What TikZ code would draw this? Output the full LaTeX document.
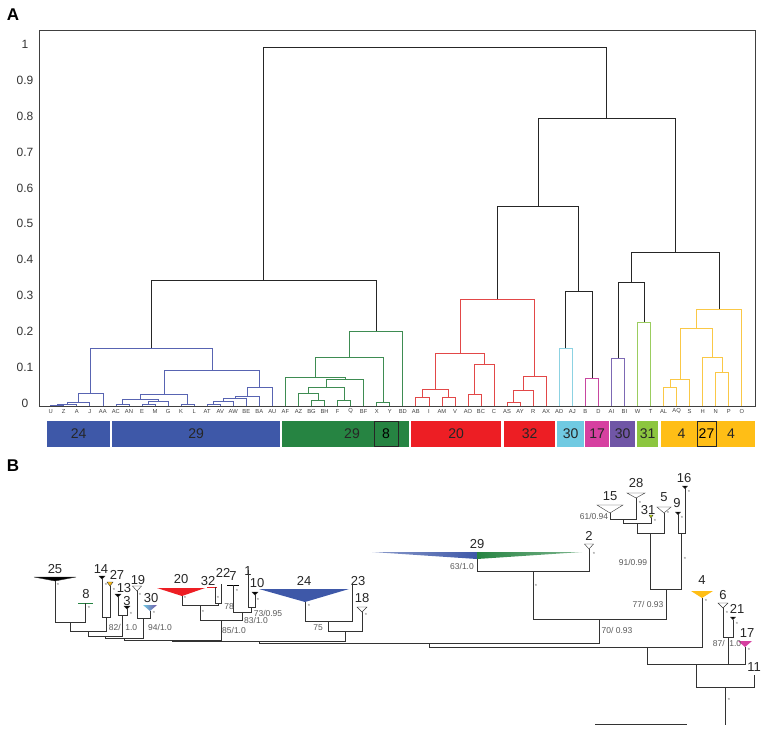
\documentclass[tikz,border=0pt]{standalone}
\usepackage{fontspec}
\setmainfont{Liberation Sans}
\usetikzlibrary{positioning, calc}

\definecolor{dblue}{RGB}{88,100,178}
\definecolor{dgreen}{RGB}{62,140,82}
\definecolor{dred}{RGB}{226,72,72}
\definecolor{dcyan}{RGB}{140,210,226}
\definecolor{dmag}{RGB}{200,70,160}
\definecolor{dpurp}{RGB}{125,105,180}
\definecolor{dlime}{RGB}{155,205,95}
\definecolor{dyel}{RGB}{250,200,70}
\definecolor{bblue}{RGB}{62,88,168}
\definecolor{bgreen}{RGB}{38,132,66}
\definecolor{bred}{RGB}{237,30,36}
\definecolor{bcyan}{RGB}{112,202,226}
\definecolor{bmag}{RGB}{214,64,160}
\definecolor{bpurp}{RGB}{112,86,166}
\definecolor{blime}{RGB}{140,198,63}
\definecolor{byel}{RGB}{255,190,22}

% one link of the dendrogram: left foot, right foot, height
\newcommand{\dlink}[6][black!85]{\draw[link, #1] (#2,#3) |- (#4,#6) -- (#4,#5);}
% collapsed clade drawn as a wedge
\newcommand{\clade}[5][black]{\filldraw[fill=#1, draw=black!80, line width=0.4pt] ({#2-#4},#3) -- ({#2+#4},#3) -- (#2,{#3+#5}) -- cycle;}

\begin{document}
\begin{tikzpicture}[
    x=1pt, y=-1pt,
    panel/.style={font=\bfseries\fontsize{17}{17}\selectfont, inner sep=0pt},
    tick/.style={font=\fontsize{12}{12}\selectfont, text=black!80, inner sep=0pt},
    leaf/.style={font=\fontsize{5.8}{6}\selectfont, text=black!75, inner sep=0pt},
    link/.style={line width=0.65pt},
    bar/.style={rectangle, anchor=west, inner sep=0pt, minimum height=26pt, font=\fontsize{14}{14}\selectfont, text=black!85},
    boxed/.style={rectangle, draw=black!85, line width=0.9pt, inner sep=0pt, minimum height=25pt},
    tip/.style={font=\fontsize{13}{13}\selectfont, text=black!85, inner sep=0pt},
    supp/.style={font=\fontsize{8.5}{8.5}\selectfont, text=black!65, inner sep=0pt},
    star/.style={font=\fontsize{6}{6}\selectfont, text=black!55, inner sep=0pt},
    branch/.style={line width=0.7pt, draw=black!80},
]
\useasboundingbox (0,0) rectangle (763,729);

%% PANEL A
    \node[panel] (labA) at (13,15) {A};
    \draw[line width=0.8pt, black!75] (39,30) rectangle (755,406);

    % axis
    \foreach \v/\t in {0/0, 1/0.1, 2/0.2, 3/0.3, 4/0.4, 5/0.5, 6/0.6, 7/0.7, 8/0.8, 9/0.9, 10/1}
        \node[tick] (tick\v) at (25,{403-35.85*\v}) {\t};

    % leaves
    \foreach \lab [count=\i from 0] in {U,Z,A,J,AA,AC,AN,E,M,G,K,L,AT,AV,AW,BE,BA,AU,AF,AZ,BG,BH,F,Q,BF,X,Y,BD,AB,I,AM,V,AO,BC,C,AS,AY,R,AX,AD,AJ,B,D,AI,BI,W,T,AL,AQ,S,H,N,P,O}
        \node[leaf] (leaf-\lab) at ({50.7+13.04*\i},411.5) {\lab};

    % blue cluster
    \dlink[dblue]{50.7}{406}{63.7}{406}{405.3}
    \dlink[dblue]{57.2}{405.3}{76.8}{406}{404}
    \dlink[dblue]{67}{404}{89.8}{406}{402.7}
    \dlink[dblue]{78.4}{402.7}{102.9}{406}{393.3}
    \dlink[dblue]{115.9}{406}{128.9}{406}{404}
    \dlink[dblue]{142}{406}{155}{406}{404}
    \dlink[dblue]{148.5}{404}{168.1}{406}{401.5}
    \dlink[dblue]{122.4}{404}{158.3}{401.5}{399}
    \dlink[dblue]{181.1}{406}{194.1}{406}{404}
    \dlink[dblue]{140.4}{399}{187.6}{404}{394}
    \dlink[dblue]{207.2}{406}{220.2}{406}{404}
    \dlink[dblue]{213.7}{404}{233.3}{406}{401}
    \dlink[dblue]{223.5}{401}{246.3}{406}{398}
    \dlink[dblue]{234.9}{398}{259.3}{406}{396}
    \dlink[dblue]{247.1}{396}{272.4}{406}{387}
    \dlink[dblue]{164}{394}{259.7}{387}{370}
    \dlink[dblue]{90.6}{393.3}{211.9}{370}{348}

    % green cluster
    \dlink[dgreen]{311.5}{406}{324.5}{406}{400}
    \dlink[dgreen]{298.5}{406}{318}{400}{393}
    \dlink[dgreen]{337.6}{406}{350.6}{406}{400}
    \dlink[dgreen]{308.3}{393}{344.1}{400}{387.5}
    \dlink[dgreen]{326.2}{387.5}{363.7}{406}{379}
    \dlink[dgreen]{285.4}{406}{345}{379}{377}
    \dlink[dgreen]{376.7}{406}{389.7}{406}{402}
    \dlink[dgreen]{315.2}{377}{383.2}{402}{357}
    \dlink[dgreen]{349.2}{357}{402.8}{406}{331}

    % red cluster
    \dlink[dred]{415.8}{406}{428.9}{406}{397}
    \dlink[dred]{441.9}{406}{454.9}{406}{397}
    \dlink[dred]{422.4}{397}{448.4}{397}{389}
    \dlink[dred]{468}{406}{481}{406}{394}
    \dlink[dred]{474.5}{394}{494.1}{406}{364}
    \dlink[dred]{435.4}{389}{484.3}{364}{353}
    \dlink[dred]{507.1}{406}{520.1}{406}{402}
    \dlink[dred]{513.6}{402}{533.2}{406}{390}
    \dlink[dred]{523.4}{390}{546.2}{406}{376}
    \dlink[dred]{459.9}{353}{534.8}{376}{299}

    % small clusters
    \dlink[dcyan]{559.3}{406}{572.3}{406}{348}
    \dlink[dmag]{585.3}{406}{598.4}{406}{378}
    \dlink[dpurp]{611.4}{406}{624.5}{406}{358}
    \dlink[dlime]{637.5}{406}{650.5}{406}{322}

    % yellow cluster
    \dlink[dyel]{663.6}{406}{676.6}{406}{387}
    \dlink[dyel]{670.1}{387}{689.7}{406}{379}
    \dlink[dyel]{715.7}{406}{728.8}{406}{372}
    \dlink[dyel]{702.7}{406}{722.3}{372}{357}
    \dlink[dyel]{679.9}{379}{712.5}{357}{328}
    \dlink[dyel]{696.2}{328}{741.8}{406}{309}

    % upper links
    \dlink{151.3}{348}{376}{331}{280}
    \dlink{565.8}{348}{591.9}{378}{291}
    \dlink{497.4}{299}{578.8}{291}{206}
    \dlink{618}{358}{644}{322}{282}
    \dlink{631}{282}{719}{309}{252}
    \dlink{538.1}{206}{675}{252}{118}
    \dlink{263.6}{280}{606.6}{118}{47}

    % colour bar
    \node[bar, fill=bblue, minimum width=63pt] (bar24) at (47,434) {24};
    \node[bar, fill=bblue, minimum width=168pt] (bar29b) at (112,434) {29};
    \node[bar, fill=bgreen, minimum width=127pt] (bar29g) at (282,434) {};
    \node[bar, fill=bred, minimum width=90pt] (bar20) at (411,434) {20};
    \node[bar, fill=bred, minimum width=51pt] (bar32) at (504,434) {32};
    \node[bar, fill=bcyan, minimum width=27pt] (bar30c) at (557,434) {30};
    \node[bar, fill=bmag, minimum width=24pt] (bar17) at (585,434) {17};
    \node[bar, fill=bpurp, minimum width=25pt] (bar30p) at (610,434) {30};
    \node[bar, fill=blime, minimum width=21pt] (bar31) at (637,434) {31};
    \node[bar, fill=byel, minimum width=94pt] (bar4) at (661,434) {};
    \node[tip, font=\fontsize{14}{14}\selectfont] (lab29g) at (352,434) {29};
    \node[boxed, minimum width=24pt, font=\fontsize{14}{14}\selectfont] (box8) at (386,434) {8};
    \node[tip, font=\fontsize{14}{14}\selectfont] (lab4a) at (681.5,434) {4};
    \node[boxed, minimum width=19pt, font=\fontsize{14}{14}\selectfont] (box27) at (706.5,434) {27};
    \node[tip, font=\fontsize{14}{14}\selectfont] (lab4b) at (731,434) {4};

%% PANEL B
    \node[panel] (labB) at (13,466) {B};

    % collapsed clades
    \clade{55}{577}{21}{4}
    \draw[line width=1pt, bgreen] (78,603) -- (93,603);
    \clade{102}{576}{3}{3}
    \clade[byel]{110}{582}{3}{4}
    \clade{118}{594}{3}{3}
    \clade{127}{606}{3}{3}
    \clade[white]{137}{586}{4.5}{5}
    \shade[left color=bcyan, right color=bpurp] (143,605) -- (157,605) -- (150,611) -- cycle;
    \fill[bred] (157,588) -- (205,588) -- (182,596) -- cycle;
    \draw[line width=1pt, bred] (207,587) -- (217,587);
    \draw[line width=1pt] (227,585) -- (239,585);
    \clade{255}{592}{3}{3}
    \fill[bblue] (259,589) -- (349,589) -- (305,602) -- cycle;
    \clade[white]{362}{607}{5}{5}
    \shade[left color=bblue!60, right color=bblue] (372,552) -- (477,552) -- (477,559) -- cycle;
    \shade[left color=bgreen, right color=bgreen!60] (477,552) -- (582,552) -- (477,559) -- cycle;
    \clade[white]{589}{544}{4.5}{5}
    \clade[white]{610}{505}{13}{8}
    \clade[white]{636}{493}{9}{5}
    \clade[byel!70!green]{651}{515}{2}{3}
    \clade[white]{664}{507}{7}{6}
    \clade{678}{512}{2.5}{2.5}
    \clade{685}{486}{2.5}{2.5}
    \fill[byel] (691,591) -- (713,591) -- (702,598) -- cycle;
    \clade[white]{723}{603}{5}{5}
    \clade{733}{617}{2.5}{2.5}
    \fill[bmag] (738,641) -- (752,641) -- (745,647) -- cycle;

    % tip labels
    \node[tip] (t25) at (55,569) {25};
    \node[tip] (t8) at (86,594) {8};
    \node[tip] (t14) at (101,569) {14};
    \node[tip] (t27) at (117,575) {27};
    \node[tip] (t13) at (124,588) {13};
    \node[tip] (t3) at (127,601) {3};
    \node[tip] (t19) at (138,580) {19};
    \node[tip] (t30) at (151,598) {30};
    \node[tip] (t20) at (181,579) {20};
    \node[tip] (t32) at (208,581) {32};
    \node[tip] (t22) at (223,573) {22};
    \node[tip] (t7) at (233,576) {7};
    \node[tip] (t1) at (248,571) {1};
    \node[tip] (t10) at (257,583) {10};
    \node[tip] (t24) at (304,581) {24};
    \node[tip] (t23) at (358,581) {23};
    \node[tip] (t18) at (362,598) {18};
    \node[tip] (t29) at (477,544) {29};
    \node[tip] (t2) at (589,536) {2};
    \node[tip] (t15) at (610,496) {15};
    \node[tip] (t28) at (636,483) {28};
    \node[tip] (t31) at (648,510) {31};
    \node[tip] (t5) at (664,497) {5};
    \node[tip] (t9) at (677,503) {9};
    \node[tip] (t16) at (684,478) {16};
    \node[tip] (t4) at (702,580) {4};
    \node[tip] (t6) at (723,595) {6};
    \node[tip] (t21) at (737,609) {21};
    \node[tip] (t17) at (747,633) {17};
    \node[tip] (t11) at (754,667) {11};

    % branches, left group
    \draw[branch] (55,581) |- (85,622) -- (85,603);
    \draw[branch] (102,579) |- (110,617.7) -- (110,586);
    \draw[branch] (70,622) |- (106,631.7) -- (106,617.7);
    \draw[branch] (118,597) |- (127,615.7) -- (127,609);
    \draw[branch] (88,631.7) |- (122.5,636.7) -- (122.5,615.7);
    \draw[branch] (137,591) |- (150,618) -- (150,611);
    \draw[branch] (105,636.7) |- (143.5,638.5) -- (143.5,618);
    % middle group
    \draw[branch] (215,587) |- (221,603.3) -- (221,584);
    \draw[branch] (182,596) |- (218,605) -- (218,603.3);
    \draw[branch] (248,570) |- (255,607.3) -- (255,595);
    \draw[branch] (233,585) |- (251.5,612.7) -- (251.5,607.3);
    \draw[branch] (200,605) |- (242,620) -- (242,612.7);
    \draw[branch] (124,638.5) |- (221,640) -- (221,620);
    % group of 24
    \draw[branch] (305,602) |- (352,621.7) -- (352,585);
    \draw[branch] (328.5,621.7) |- (362,631.7) -- (362,612);
    \draw[branch] (172.5,640) |- (345,641.5) -- (345,631.7);
    % right groups
    \draw[branch] (610,513) |- (636,519) -- (636,498);
    \draw[branch] (623,519) |- (651,523) -- (651,518);
    \draw[branch] (637,523) |- (664,533) -- (664,513);
    \draw[branch] (678,514) |- (685,533) -- (685,488);
    \draw[branch] (650.5,533) |- (681.5,589) -- (681.5,533);
    \draw[branch] (477,559) |- (589,571) -- (589,549);
    \draw[branch] (533,571) |- (666,619) -- (666,589);
    \draw[branch] (259,641.5) |- (599.5,643) -- (599.5,619);
    \draw[branch] (429,643) |- (702,647) -- (702,598);
    \draw[branch] (723,608) |- (733,637) -- (733,620);
    \draw[branch] (647,647) |- (745,664) -- (745,647);
    \draw[branch] (728,637) -- (728,664);
    \draw[branch] (696,664) |- (754,687) -- (754,675);
    \draw[branch] (725,687) -- (725,725);
    \draw[branch] (595,724) -- (687,724);

    % support values
    \node[supp] (s82) at (123,627) {82/\ \ 1.0};
    \node[supp] (s94) at (160,627) {94/1.0};
    \node[supp] (s78) at (229,607) {78};
    \node[supp] (s73) at (268,613) {73/0.95};
    \node[supp] (s83) at (256,620) {83/1.0};
    \node[supp] (s85) at (234,630) {85/1.0};
    \node[supp] (s75) at (318,628) {75};
    \node[supp] (s63) at (462,566) {63/1.0};
    \node[supp] (s61) at (594,516) {61/0.94};
    \node[supp] (s91) at (633,562) {91/0.99};
    \node[supp] (s77) at (648,604) {77/ 0.93};
    \node[supp] (s70) at (617,630) {70/ 0.93};
    \node[supp] (s87) at (727,643) {87/\ \ 1.0};

    % asterisks
    \foreach \x/\y in {58/585, 89/608, 106/585, 114/590, 131/614, 140/595, 154/613, 185/598, 203/612, 218/598, 237/591, 258/600, 309/606, 366/615, 594/554, 536/586, 640/503, 655/521, 668/513, 682/518, 689/492, 685/559, 706/601, 727/613, 737/624, 749/650, 729/700}
        \node[star] at (\x,\y) {*};

\end{tikzpicture}
\end{document}
